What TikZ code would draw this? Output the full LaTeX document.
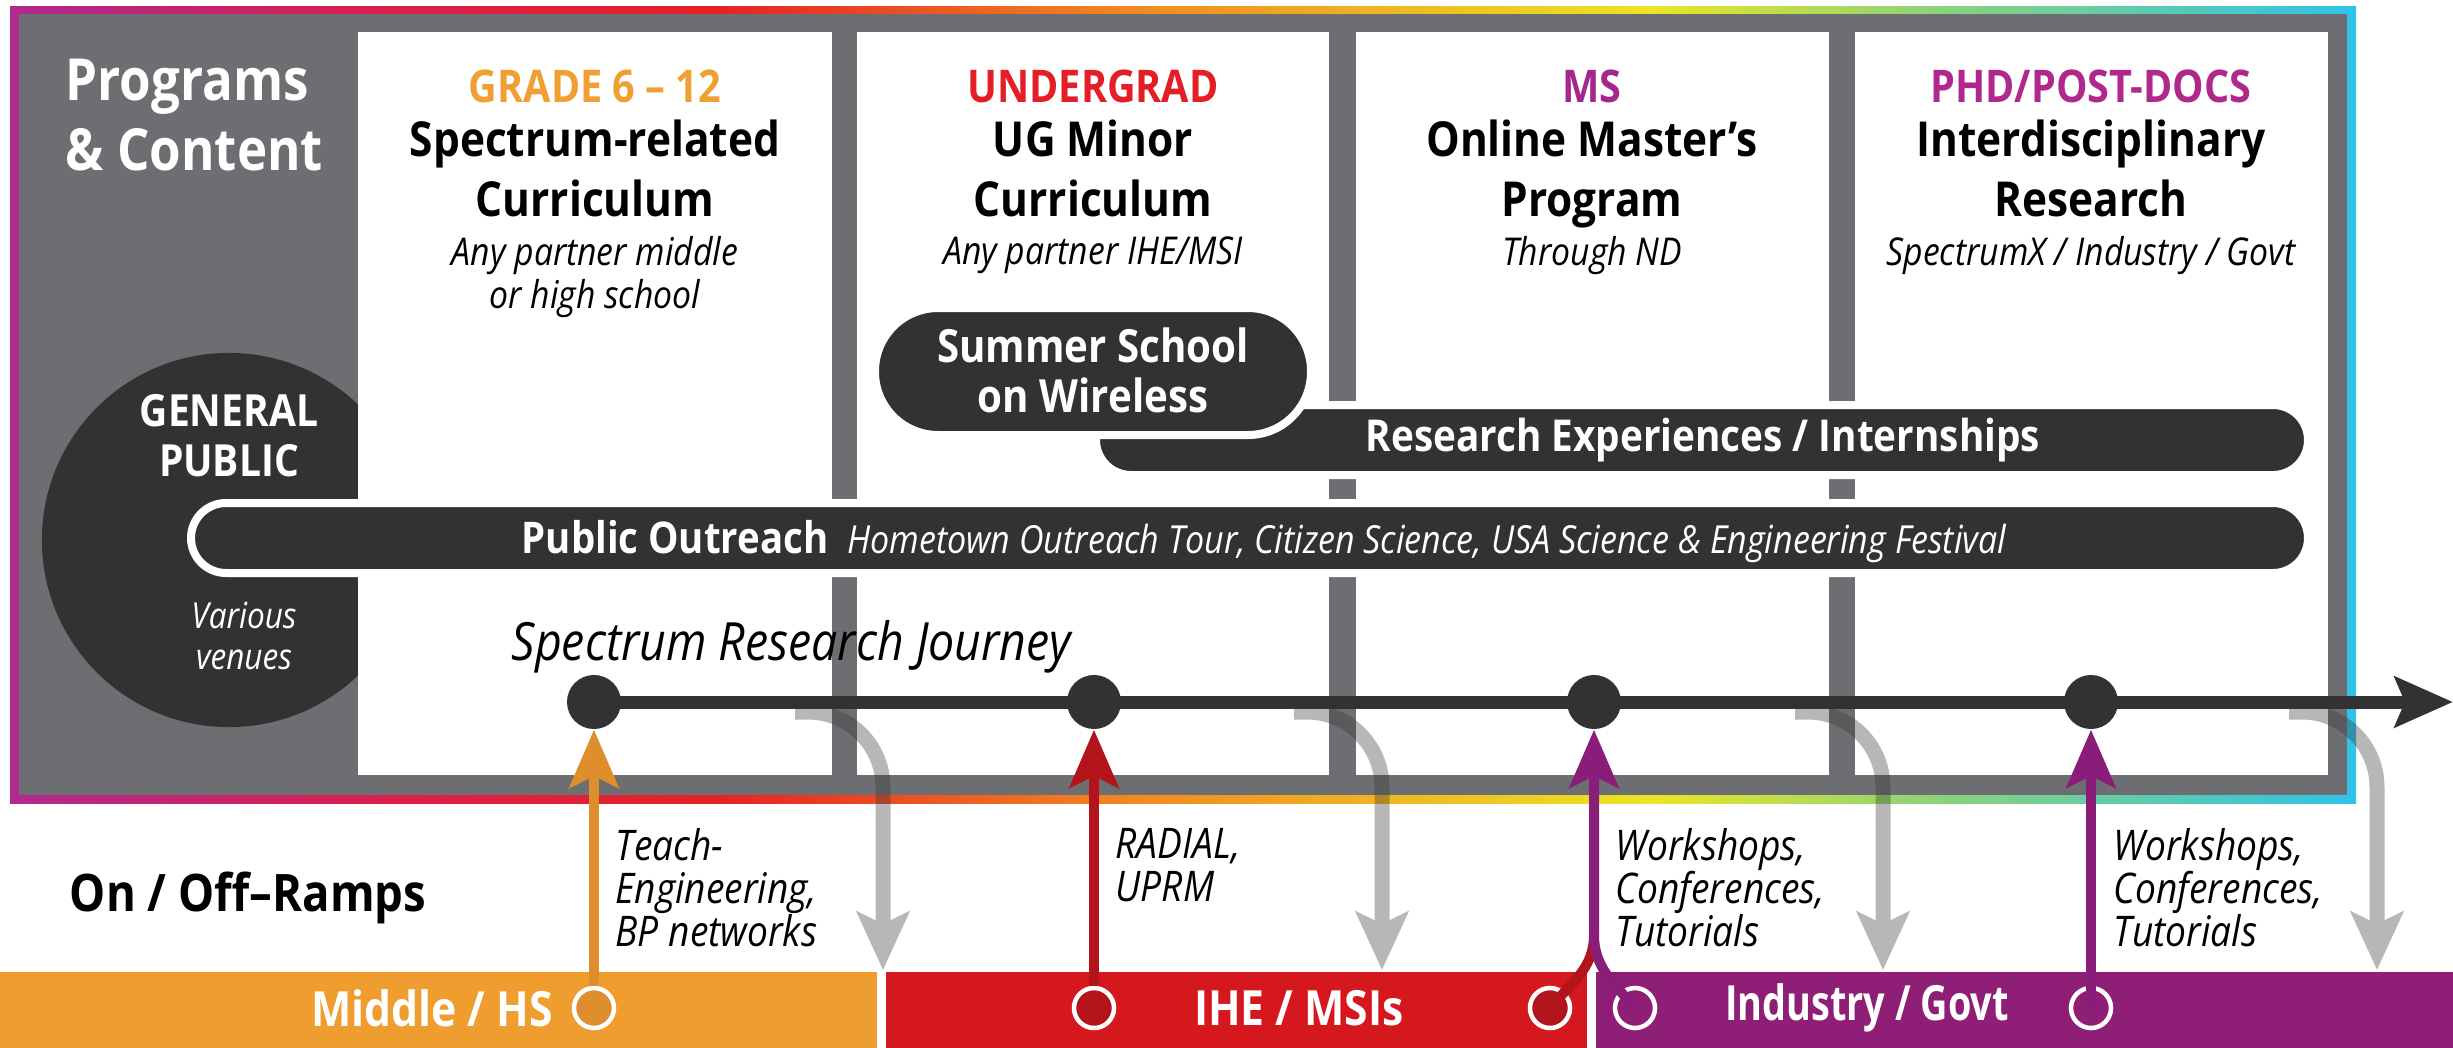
\documentclass[tikz,border=0pt]{standalone}
\usepackage{fontspec}
\setmainfont{Open Sans}[FakeStretch=0.88]
\newfontfamily\narrowsans{Open Sans}[FakeStretch=0.78]
\usetikzlibrary{arrows.meta}

\definecolor{framegray}{HTML}{6D6E71}
\definecolor{ink}{HTML}{333132}
\definecolor{gradeorange}{HTML}{F0A033}
\definecolor{ugred}{HTML}{E31E26}
\definecolor{msmag}{HTML}{A3288E}
\definecolor{phdmag}{HTML}{B0288C}
\definecolor{hsbar}{HTML}{EF9D2E}
\definecolor{hsline}{HTML}{DE8E2C}
\definecolor{ihebar}{HTML}{D5181E}
\definecolor{iheline}{HTML}{B3141B}
\definecolor{indbar}{HTML}{8E1E76}
\definecolor{indline}{HTML}{8B1D7A}
\definecolor{spmag}{HTML}{B02A8F}
\definecolor{spcrim}{HTML}{DC1F4D}
\definecolor{spred}{HTML}{E62125}
\definecolor{sporange}{HTML}{F18A21}
\definecolor{spyellow}{HTML}{EBE524}
\definecolor{spgreen}{HTML}{8CD27A}
\definecolor{spcyan}{HTML}{2EC3E7}

\pgfdeclarehorizontalshading{spectrum}{100bp}{color(0bp)=(spmag); color(25bp)=(spmag);
  color(33bp)=(spcrim); color(40bp)=(spred); color(49bp)=(sporange); color(60bp)=(spyellow);
  color(66bp)=(spgreen); color(75bp)=(spcyan); color(100bp)=(spcyan)}

\begin{document}
\begin{tikzpicture}[x=0.01cm, y=-0.01cm,
  every node/.style={inner sep=0pt},
  bar/.style={fill=ink, draw=white, line width=0.08cm},
  bartext/.style={text=white, font=\bfseries\fontsize{13}{14.2}\selectfont, align=center},
  dot/.style={circle, fill=ink, minimum size=0.54cm},
  ring/.style={circle, draw=white, line width=0.045cm, minimum size=0.40cm},
  onramp/.style={line width=0.1cm, -{Stealth[length=0.58cm, width=0.49cm, inset=0.12cm]}},
  offramp/.style={line width=0.15cm, draw=black!78, rounded corners=0.75cm,
    -{Stealth[length=0.58cm, width=0.52cm, inset=0.12cm]}},
  rampnote/.style={anchor=north west, align=left, font=\itshape\fontsize{12}{12.2}\selectfont},
  ramp/.style={text=white, font=\bfseries\fontsize{13.8}{16}\selectfont},
  ]
\useasboundingbox (0,0) rectangle (2453,1048);

\shade[shading=spectrum] (10,6) rectangle (2356,803);
\fill[framegray] (19,14) rectangle (2347,795);
\fill[ink] (229,540) circle[radius=1.87cm];
\foreach \xa/\xb in {358/832, 857/1329, 1356/1829, 1855/2328}
  \fill[white] (\xa,32) rectangle (\xb,775);

\node[anchor=north west, align=left, text=white, font=\bfseries\fontsize{16.5}{19.9}\selectfont]
  (prog) at (65,58) {Programs\\\& Content};

\foreach \x/\c/\cat/\ttl/\sbt [count=\i] in {
  595/gradeorange/{GRADE 6 – 12}/{Spectrum-related\\Curriculum}/{Any partner middle\\or high school},
  1093/ugred/{UNDERGRAD}/{UG Minor\\Curriculum}/{Any partner IHE/MSI},
  1592/msmag/{MS}/{Online Master’s\\Program}/{Through ND},
  2091/phdmag/{PHD/POST-DOCS}/{Interdisciplinary\\Research}/{SpectrumX / Industry / Govt}}{
  \node[font=\bfseries\fontsize{12.8}{14}\selectfont, text=\c] (cat\i) at (\x,86) {\cat};
  \node[anchor=north, align=center, font=\bfseries\fontsize{13.7}{17}\selectfont] (title\i) at (\x,119) {\ttl};
  \node[anchor=north, align=center, font=\itshape\fontsize{10.9}{12}\selectfont] (sub\i) at (\x,236) {\sbt};
}

\node[align=center, text=white, font=\bfseries\fontsize{12.6}{14.2}\selectfont] (gp) at (229,436) {GENERAL\\PUBLIC};
\node[align=center, text=white, font=\itshape\fontsize{10.2}{11.4}\selectfont] (venues) at (244,636) {Various\\venues};

\draw[bar, rounded corners=0.35cm] (191,503) rectangle (2308,573);
\draw[bar, rounded corners=0.35cm] (1096,405) rectangle (2308,475);
\draw[bar, rounded corners=0.63cm] (875,308) rectangle (1311,435);
\node[bartext] (summer) at (1093,370) {Summer School\\on Wireless};
\node[bartext, font=\bfseries\fontsize{12.5}{14}\selectfont] (research) at (1703,440) {Research Experiences / Internships};
\node[bartext, anchor=base west, font=\bfseries\fontsize{12.4}{14}\selectfont] (outreach) at (521,553)
  {Public Outreach\hspace{0.19cm}{\mdseries\itshape\fontsize{11}{13}\selectfont Hometown Outreach Tour, Citizen Science, USA Science \& Engineering Festival}};

\node[anchor=base west, font=\itshape\fontsize{15}{17}\selectfont] (journey) at (511,660) {Spectrum Research Journey};
\node[font=\bfseries\fontsize{14.7}{16}\selectfont] (ramps) at (248,898) {On / Off–Ramps};

\fill[hsbar] (0,972) rectangle (877,1048);
\fill[ihebar] (886,972) rectangle (1587,1048);
\fill[indbar] (1596,972) rectangle (2453,1048);
\node[ramp] (hs) at (432,1008) {Middle / HS};
\node[ramp] (ihe) at (1299,1008) {IHE / MSIs};
\node[ramp, font=\narrowsans\bfseries\fontsize{13.8}{16}\selectfont] (ind) at (1867,1008) {Industry / Govt};

\node[dot] (d1) at (594,702) {};
\node[dot] (d2) at (1094,702) {};
\node[dot] (d3) at (1594,702) {};
\node[dot] (d4) at (2091,702) {};

\begin{scope}[transparency group, opacity=0.36]
\foreach \s/\e [count=\i] in {795/883, 1294/1382, 1795/1883, 2289/2377}{
  \coordinate (g\i s) at (\s,712);
  \coordinate (g\i e) at (\e,970);
  \draw[offramp] (g\i s) -| (g\i e);
}
\end{scope}

\coordinate (jend) at (2453,702);
\draw[ink, line width=0.13cm, -{Stealth[length=0.58cm, width=0.5cm, inset=0.1cm]}] (d1.center) -- (jend);

\node[ring, fill=hsline] (r1) at (594,1008) {};
\node[ring, fill=iheline] (r2) at (1094,1008) {};
\node[ring, fill=iheline] (r3) at (1550,1008) {};
\node[ring, fill=indbar] (r4) at (1635,1008) {};
\node[ring, fill=indbar] (r5) at (2091,1008) {};
\coordinate (j3) at (1594,935);

\draw[onramp, hsline] (r1.north) -- (d1.south);
\draw[onramp, iheline] (r2.north) -- (d2.south);
\draw[line width=0.1cm, iheline] (r3.center) to[out=50, in=-90] (j3);
\draw[onramp, indline] (r4.center) to[out=130, in=-90] (j3) -- (d3.south);
\draw[onramp, indline] (r5.center) -- (d4.south);

\node[rampnote] (n1) at (615,828) {Teach-\\Engineering,\\BP networks};
\node[rampnote] (n2) at (1115,828) {RADIAL,\\UPRM};
\node[rampnote] (n3) at (1615,828) {Workshops,\\Conferences,\\Tutorials};
\node[rampnote] (n4) at (2113,828) {Workshops,\\Conferences,\\Tutorials};

\end{tikzpicture}
\end{document}
